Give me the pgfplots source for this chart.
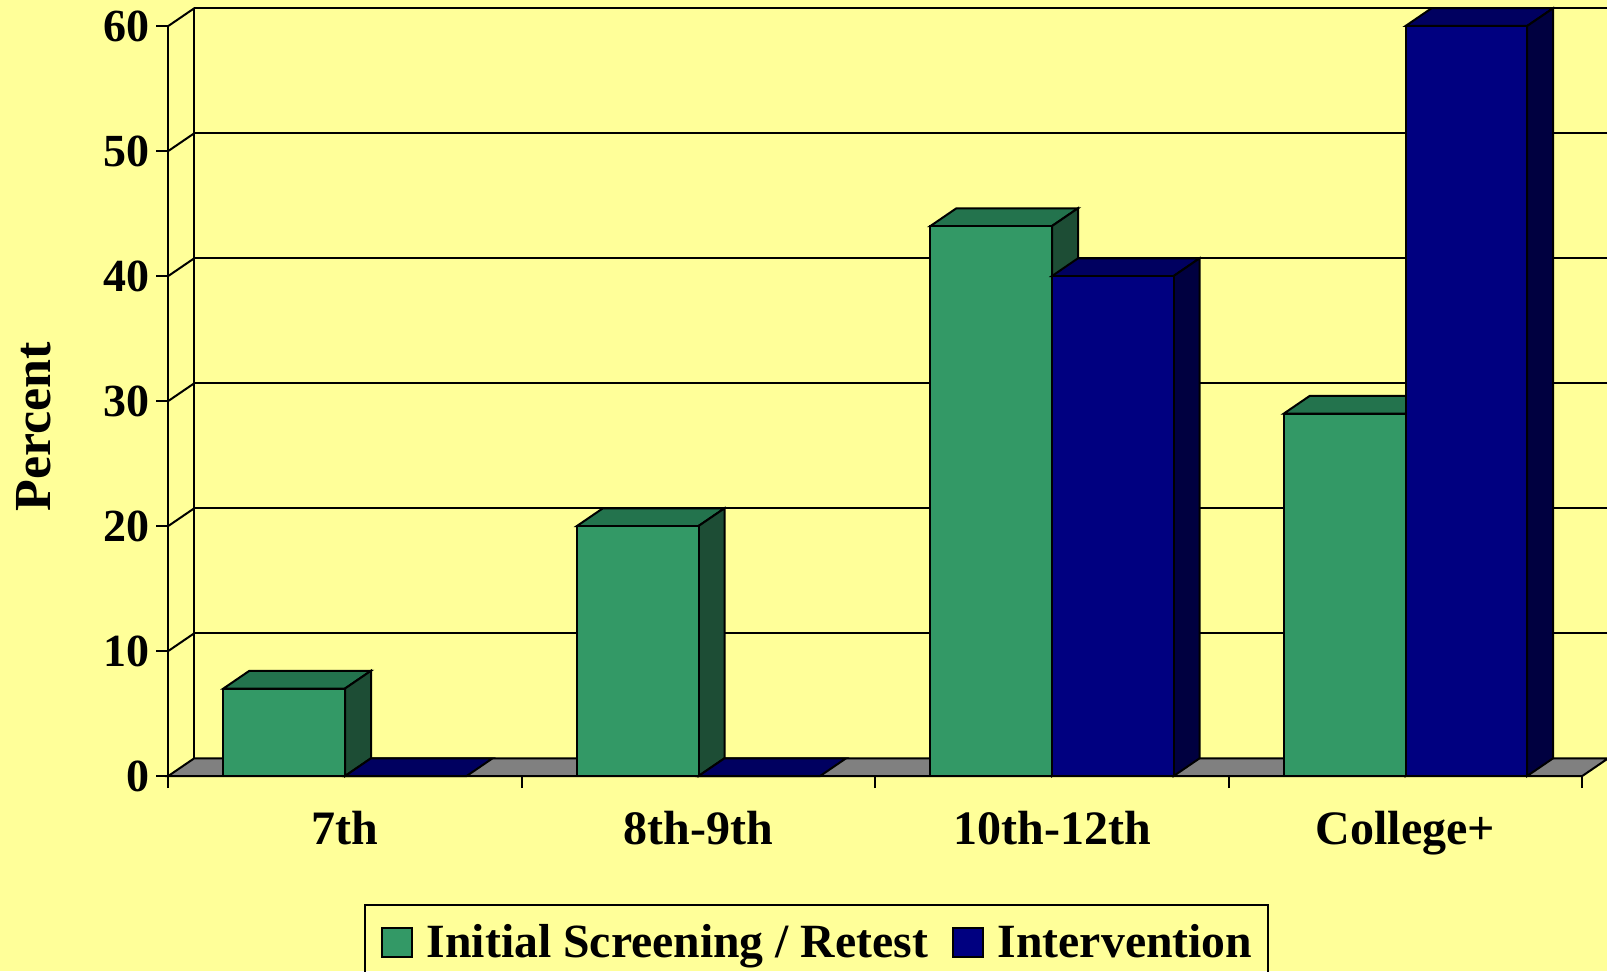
\documentclass[border=0pt]{standalone}
\usepackage{fontspec}
\setmainfont{Liberation Serif}
\usepackage{pgfplots}
\pgfplotsset{compat=1.18}
\usetikzlibrary{backgrounds}
\definecolor{bgyellow}{HTML}{FFFF99}
\definecolor{gfront}{HTML}{339966}
\definecolor{gtop}{HTML}{23734D}
\definecolor{gside}{HTML}{1D4D35}
\definecolor{nfront}{HTML}{000080}
\definecolor{ntop}{HTML}{000060}
\definecolor{nside}{HTML}{000040}
\definecolor{floorgray}{HTML}{808080}
\newcommand{\legsq}[1]{\begin{tikzpicture}[baseline=0pt]\draw[fill=#1, draw=black, line width=0.9pt] (0pt,0.5pt) rectangle (15pt,15pt);\end{tikzpicture}}
\begin{document}
\begin{tikzpicture}
\begin{axis}[
  at={(0pt,0pt)}, anchor=south west,
  scale only axis, width=707pt, height=375pt,
  xmin=0, xmax=4, ymin=0, ymax=60, clip=false,
  axis lines*=left,
  axis line style={black, line width=1pt},
  tick align=outside, major tick length=6pt,
  tick style={black, line width=1pt},
  ytick={0,10,...,60},
  xtick={0,1,2,3,4}, xticklabels={},
  extra x ticks={0.5,1.5,2.5,3.5},
  extra x tick labels={7th,8th-9th,10th-12th,College+},
  extra x tick style={tick style={draw=none}, xticklabel style={yshift=-8pt}},
  /pgf/number format/assume math mode=true,
  yticklabel style={font=\fontsize{23}{27}\selectfont\bfseries},
  xticklabel style={font=\fontsize{24}{28}\selectfont\bfseries},
  ylabel={Percent},
  ylabel style={at={(axis description cs:-0.095,0.4653)}, anchor=center, font=\fontsize{26}{30}\selectfont\bfseries},
  every axis plot/.append style={line width=1pt},
]
% floor
\addplot[draw=black, fill=floorgray] coordinates {(0,0) (4,0) (4.0735,1.42) (0.0735,1.42)} -- cycle;
% back wall gridlines
\addplot[black] coordinates {(0.0735,11.42) (4.0735,11.42)};
\addplot[black] coordinates {(0.0735,21.42) (4.0735,21.42)};
\addplot[black] coordinates {(0.0735,31.42) (4.0735,31.42)};
\addplot[black] coordinates {(0.0735,41.42) (4.0735,41.42)};
\addplot[black] coordinates {(0.0735,51.42) (4.0735,51.42)};
\addplot[black] coordinates {(0.0735,61.42) (4.0735,61.42)};
% left wall
\addplot[black] coordinates {(0.0735,1.42) (0.0735,61.42)};
\addplot[black] coordinates {(0,10) (0.0735,11.42)};
\addplot[black] coordinates {(0,20) (0.0735,21.42)};
\addplot[black] coordinates {(0,30) (0.0735,31.42)};
\addplot[black] coordinates {(0,40) (0.0735,41.42)};
\addplot[black] coordinates {(0,50) (0.0735,51.42)};
\addplot[black] coordinates {(0,60) (0.0735,61.42)};
% green tops and sides
\addplot[draw=black, fill=gtop] coordinates {(0.156,7) (0.5,7) (0.5735,8.42) (0.2295,8.42)} -- cycle;
\addplot[draw=black, fill=gside] coordinates {(0.5,0) (0.5735,1.42) (0.5735,8.42) (0.5,7)} -- cycle;
\addplot[draw=black, fill=gtop] coordinates {(1.156,20) (1.5,20) (1.5735,21.42) (1.2295,21.42)} -- cycle;
\addplot[draw=black, fill=gside] coordinates {(1.5,0) (1.5735,1.42) (1.5735,21.42) (1.5,20)} -- cycle;
\addplot[draw=black, fill=gtop] coordinates {(2.156,44) (2.5,44) (2.5735,45.42) (2.2295,45.42)} -- cycle;
\addplot[draw=black, fill=gside] coordinates {(2.5,0) (2.5735,1.42) (2.5735,45.42) (2.5,44)} -- cycle;
\addplot[draw=black, fill=gtop] coordinates {(3.156,29) (3.5,29) (3.5735,30.42) (3.2295,30.42)} -- cycle;
\addplot[draw=black, fill=gside] coordinates {(3.5,0) (3.5735,1.42) (3.5735,30.42) (3.5,29)} -- cycle;
% green fronts: Initial Screening / Retest
\addplot[ybar, bar width=0.344, bar shift=-0.172, draw=black, fill=gfront]
  coordinates {(0.5,7) (1.5,20) (2.5,44) (3.5,29)};
% navy tops and sides
\addplot[draw=black, fill=ntop] coordinates {(0.5,0) (0.844,0) (0.9175,1.42) (0.5735,1.42)} -- cycle;
\addplot[draw=black, fill=ntop] coordinates {(1.5,0) (1.844,0) (1.9175,1.42) (1.5735,1.42)} -- cycle;
\addplot[draw=black, fill=ntop] coordinates {(2.5,40) (2.844,40) (2.9175,41.42) (2.5735,41.42)} -- cycle;
\addplot[draw=black, fill=nside] coordinates {(2.844,0) (2.9175,1.42) (2.9175,41.42) (2.844,40)} -- cycle;
\addplot[draw=black, fill=ntop] coordinates {(3.5,60) (3.844,60) (3.9175,61.42) (3.5735,61.42)} -- cycle;
\addplot[draw=black, fill=nside] coordinates {(3.844,0) (3.9175,1.42) (3.9175,61.42) (3.844,60)} -- cycle;
% navy fronts: Intervention
\addplot[ybar, bar width=0.344, bar shift=0.172, draw=black, fill=nfront]
  coordinates {(0.5,0) (1.5,0) (2.5,40) (3.5,60)};
\end{axis}
\node[draw=black, line width=1pt, anchor=north west, inner xsep=8pt, inner ysep=9.9pt,
  font=\fontsize{23.85}{28}\selectfont\bfseries] at (97.85pt,-64pt)
  {\legsq{gfront}\hspace{7pt}Initial Screening / Retest\hspace{12pt}\legsq{nfront}\hspace{7pt}Intervention};
\begin{scope}[on background layer]
\fill[bgyellow] (-84.15pt,-97.5pt) rectangle (719.35pt,388pt);
\end{scope}
\pgfresetboundingbox
\useasboundingbox (-84.15pt,-97.5pt) rectangle (719.35pt,388pt);
\end{tikzpicture}
\end{document}
